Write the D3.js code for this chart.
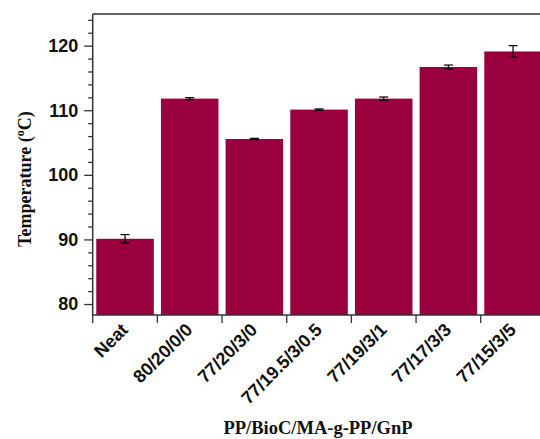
<!DOCTYPE html>
<html>
<head>
<meta charset="utf-8">
<script src="https://cdn.jsdelivr.net/npm/d3@7"></script>
<style>
  body { margin: 0; background: #fff; }
  svg { display: block; }
</style>
</head>
<body>
<div class="canvas"></div>
<script>
// data
const categories = ['Neat', '80/20/0/0', '77/20/3/0', '77/19.5/3/0.5', '77/19/3/1', '77/17/3/3', '77/15/3/5'];
const temps = [90.1, 111.8, 105.55, 110.1, 111.8, 116.7, 119.1];
const errors = [0.65, 0.15, 0.1, 0.1, 0.25, 0.3, 0.9];
const majorTicks = [80, 90, 100, 110, 120];
const minorTicks = [82, 84, 86, 88, 92, 94, 96, 98, 102, 104, 106, 108, 112, 114, 116, 118, 122, 124];

const width = 540, height = 439;
const BAR_COLOR = '#99003d';
const AXIS_COLOR = '#333';

const svg = d3.select('.canvas')
  .append('svg')
    .attr('width', width)
    .attr('height', height);

// plot area (right side of the frame runs off the picture)
const plot = {left: 92.7, top: 14, bottom: 315, right: 545.4};

const y = d3.scaleLinear()
  .domain([78.3, 124.9])
  .range([plot.bottom, plot.top]);

const x = d3.scaleBand()
  .domain(categories)
  .range([plot.left, plot.right])
  .paddingInner(0.11)
  .paddingOuter(0.055);

const step = x.step();
const center = d => x(d) + x.bandwidth() / 2;

// bars
svg.append('g').selectAll('rect')
  .data(categories)
  .enter().append('rect')
    .attr('x', d => x(d))
    .attr('width', x.bandwidth())
    .attr('y', (d, i) => y(temps[i]))
    .attr('height', (d, i) => plot.bottom - y(temps[i]))
    .attr('fill', BAR_COLOR);

// error bars
const err = svg.append('g')
  .attr('stroke', '#000')
  .attr('stroke-width', 1.2);
categories.forEach((c, i) => {
  const cx = center(c);
  const y0 = y(temps[i] - errors[i]);
  const y1 = y(temps[i] + errors[i]);
  err.append('line').attr('x1', cx).attr('x2', cx).attr('y1', y0).attr('y2', y1);
  err.append('line').attr('x1', cx - 4.5).attr('x2', cx + 4.5).attr('y1', y0).attr('y2', y0);
  err.append('line').attr('x1', cx - 4.5).attr('x2', cx + 4.5).attr('y1', y1).attr('y2', y1);
});

// y axis: major ticks with labels
const yAxis = svg.append('g')
  .attr('transform', `translate(${plot.left},0)`)
  .call(d3.axisLeft(y).tickValues(majorTicks).tickSize(8.5).tickPadding(6).tickSizeOuter(0));
yAxis.select('.domain').remove();
yAxis.selectAll('line').attr('stroke', AXIS_COLOR).attr('stroke-width', 1.3);
yAxis.selectAll('text')
  .attr('fill', '#111')
  .style('font-family', '"Liberation Sans", Arial, sans-serif')
  .style('font-weight', 'bold')
  .style('font-size', '18px');

// y axis: minor ticks
const yMinor = svg.append('g')
  .attr('transform', `translate(${plot.left},0)`)
  .call(d3.axisLeft(y).tickValues(minorTicks).tickSize(4.5).tickFormat(''));
yMinor.select('.domain').remove();
yMinor.selectAll('line').attr('stroke', AXIS_COLOR).attr('stroke-width', 1.3);

// frame lines
const frame = svg.append('g').attr('stroke', AXIS_COLOR).attr('stroke-width', 1.5);
frame.append('line').attr('x1', plot.left).attr('x2', plot.left).attr('y1', plot.top).attr('y2', plot.bottom);
frame.append('line').attr('x1', plot.left).attr('x2', width + 10).attr('y1', plot.bottom).attr('y2', plot.bottom);
frame.append('line').attr('x1', plot.left).attr('x2', width + 10).attr('y1', plot.top).attr('y2', plot.top);

// x ticks at the category boundaries
const boundaries = [plot.left].concat(categories.map(d => x(d) + x.bandwidth() + step * 0.055));
frame.selectAll('.xtick')
  .data(boundaries)
  .enter().append('line')
    .attr('class', 'xtick')
    .attr('x1', d => d).attr('x2', d => d)
    .attr('y1', plot.bottom).attr('y2', plot.bottom + 8)
    .attr('stroke-width', 1.3);

// x tick labels, rotated
svg.append('g').selectAll('text')
  .data(categories)
  .enter().append('text')
    .attr('transform', d => `translate(${center(d) + 4},331) rotate(-45)`)
    .attr('text-anchor', 'end')
    .attr('fill', '#111')
    .style('font-family', '"Liberation Sans", Arial, sans-serif')
    .style('font-weight', 'bold')
    .style('font-size', '18px')
    .text(d => d);

// axis titles
svg.append('text')
  .attr('x', 318)
  .attr('y', 434)
  .attr('text-anchor', 'middle')
  .attr('fill', '#111')
  .style('font-family', '"Liberation Serif", "Times New Roman", serif')
  .style('font-weight', 'bold')
  .style('font-size', '18.5px')
  .text('PP/BioC/MA-g-PP/GnP');

const yTitle = svg.append('text')
  .attr('transform', 'translate(31,179) rotate(-90)')
  .attr('text-anchor', 'middle')
  .attr('fill', '#111')
  .style('font-family', '"Liberation Serif", "Times New Roman", serif')
  .style('font-weight', 'bold')
  .style('font-size', '18px');
yTitle.append('tspan').text('Temperature (');
yTitle.append('tspan').attr('dy', -7).style('font-size', '12px').text('o');
yTitle.append('tspan').attr('dy', 7).text('C)');
</script>
</body>
</html>
